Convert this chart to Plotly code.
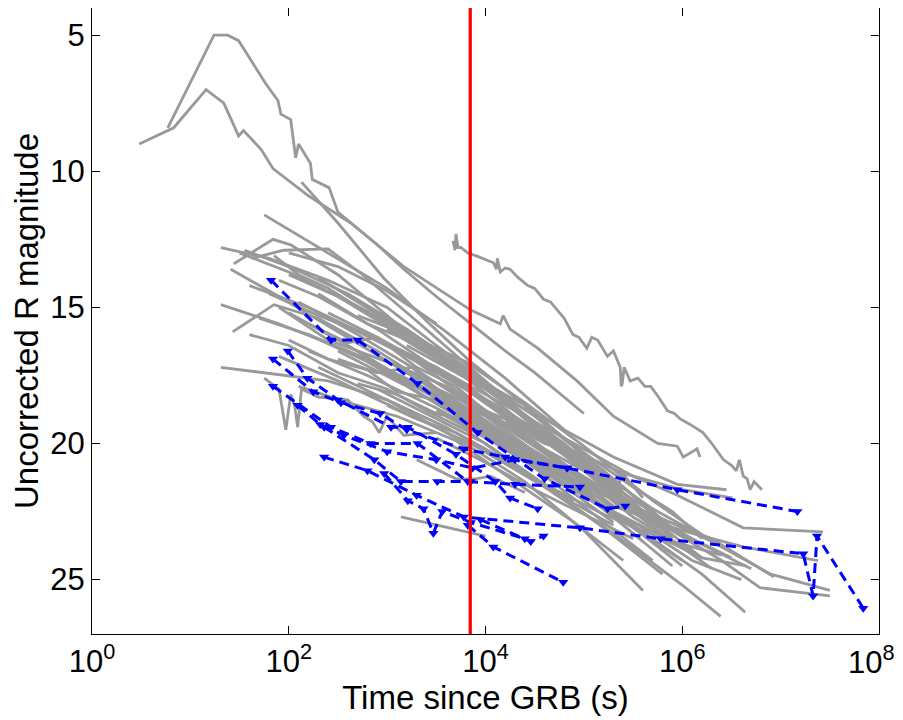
import plotly.graph_objects as go

# ---- data: log10(time since GRB [s]) and uncorrected R magnitude ----
gray_logt = [
    [3.67, 3.69, 3.70, 3.72, 3.75, 3.82, 3.90, 3.97, 4.02, 4.08, 4.11, 4.12, 4.15, 4.20, 4.25, 4.33, 4.43, 4.50, 4.59, 4.66, 4.73, 4.80, 4.89, 4.95, 5.03, 5.08, 5.14, 5.19, 5.24, 5.30, 5.37, 5.38, 5.39, 5.41, 5.47, 5.55, 5.62, 5.68, 5.76, 5.85, 5.92, 5.98, 6.08, 6.21, 6.30, 6.42, 6.50, 6.55, 6.58, 6.62, 6.66, 6.69, 6.73, 6.81],
    [0.48, 0.83, 1.16, 1.34, 1.49, 1.54, 1.72, 1.84, 2.20, 2.63, 3.17, 3.85, 4.15, 4.18, 4.25, 4.53, 4.93, 5.30, 5.75, 5.95, 6.01, 6.15, 6.18],
    [0.77, 1.24, 1.38, 1.49, 1.56, 1.77, 1.89, 1.92, 2.02, 2.07, 2.10, 2.22, 2.24, 2.41, 2.50, 2.70, 2.90, 3.17, 3.50, 3.85, 4.20, 4.50, 4.80, 5.00],
    [2.13, 2.50, 2.96, 3.40, 3.85, 4.30, 4.70],
    [1.75, 2.30, 3.00, 3.60, 4.20, 4.80],
    [1.31, 1.80, 2.40, 3.00, 3.50, 4.10, 4.60],
    [1.44, 1.84, 2.02, 2.50, 3.10, 3.70, 4.30, 5.00],
    [1.41, 1.90, 2.50, 3.20, 3.90, 4.60],
    [1.31, 1.90, 2.60, 3.30, 4.00, 4.70, 5.30],
    [1.43, 1.85, 2.30, 2.90, 3.60, 4.40, 5.10],
    [1.31, 2.40, 3.00, 3.60, 4.20, 4.90],
    [1.55, 2.00, 2.60, 3.20, 3.80, 4.50, 5.20, 5.80],
    [1.62, 1.95, 2.40, 2.75, 3.30, 3.90, 4.60],
    [2.00, 2.60, 3.30, 4.00, 4.70, 5.40, 6.00],
    [2.20, 2.80, 3.40, 4.10, 4.80, 5.50, 6.20, 6.64],
    [1.90, 2.50, 3.20, 3.90, 4.60, 5.30, 6.00, 6.39],
    [2.30, 3.00, 3.70, 4.40, 5.00, 5.60],
    [2.50, 3.20, 3.90, 4.60, 5.30, 6.00, 6.62, 6.92, 7.38],
    [3.00, 3.70, 4.40, 5.10, 5.80, 6.40, 6.79, 7.50],
    [2.80, 3.50, 4.20, 4.90, 5.50, 5.95, 6.39, 6.62, 7.43],
    [3.20, 3.90, 4.60, 5.30, 5.95, 6.45],
    [3.60, 4.20, 4.80, 5.40, 6.00, 6.51],
    [3.50, 4.10, 4.70, 5.30, 5.90, 6.40],
    [3.14, 4.00],
    [3.30, 3.70, 3.90, 4.05, 4.40],
    [1.75, 1.90, 1.97, 2.02, 2.06, 2.09, 2.13, 2.30, 2.60, 2.76, 2.85, 2.92, 3.00, 3.17, 3.50],
    [1.60, 2.20, 2.90, 3.50, 4.10, 4.80, 5.40],
    [1.80, 2.30, 2.80, 3.40, 4.00, 4.60, 5.20, 5.70],
    [2.00, 2.50, 3.00, 3.60, 4.20, 4.80, 5.50],
    [2.10, 2.70, 3.30, 3.90, 4.50, 5.10],
    [1.70, 2.20, 2.80, 3.40, 4.00, 4.60, 5.30, 5.90],
    [2.40, 2.90, 3.40, 3.90, 4.40, 5.00],
    [2.60, 3.10, 3.70, 4.30, 4.90, 5.60, 6.20],
    [2.20, 2.80, 3.50, 4.10, 4.70, 5.30],
    [1.90, 2.40, 3.00, 3.60, 4.20, 4.90, 5.50, 6.10],
    [2.70, 3.20, 3.80, 4.40, 5.00, 5.70, 6.30],
    [3.00, 3.50, 4.00, 4.50, 5.10, 5.70, 6.20],
    [2.30, 2.70, 3.30, 4.00, 4.60, 5.20],
    [2.50, 3.00, 3.60, 4.20, 4.80, 5.40, 5.90],
    [1.90, 2.30, 2.90, 3.60, 4.30],
    [3.30, 3.80, 4.30, 4.90, 5.50, 6.10, 6.50],
    [3.80, 4.30, 4.90, 5.50, 6.00],
    [2.90, 3.40, 4.00, 4.60, 5.20, 5.80],
    [4.00, 4.50, 5.00, 5.60, 6.30, 6.93],
    [4.30, 4.70, 5.20, 5.70, 6.30, 6.90, 7.50],
    [3.50, 4.00, 4.50, 5.00, 5.50],
    [2.00, 2.50, 3.00, 3.50],
    [3.90, 4.20, 4.50, 4.80, 5.10, 5.35, 5.37, 5.60],
    [4.50, 4.80, 5.10, 5.50, 5.90, 6.20],
    [2.80, 3.30, 3.90, 4.50, 5.10, 5.70],
    [1.50, 2.00, 2.50, 3.00, 3.60],
    [2.10, 2.60, 3.10, 3.70, 4.30, 4.90, 5.40],
    [4.10, 4.60, 5.20, 5.80, 6.20, 6.65],
    [3.70, 4.20, 4.80, 5.30, 5.80, 6.30],
    [3.60, 4.10, 4.60, 5.10, 5.60, 6.10, 6.60],
    [2.20, 2.60, 2.90, 3.30, 3.70, 4.20, 4.70, 5.30],
    [2.50, 2.90, 3.25, 3.60, 4.00, 4.50, 5.00, 5.60],
    [2.00, 2.40, 2.80, 3.10, 3.50, 3.90, 4.40],
    [2.70, 3.10, 3.50, 3.90, 4.30, 4.80, 5.30, 5.90],
    [3.10, 3.50, 3.90, 4.30, 4.70, 5.20, 5.70, 6.20],
    [1.60, 2.00, 2.50, 3.00, 3.40, 3.80, 4.30],
    [2.30, 2.80, 3.20, 3.60, 4.10, 4.60, 5.00],
    [3.40, 3.80, 4.20, 4.60, 5.00, 5.40, 5.80, 6.30, 6.70],
    [4.20, 4.60, 5.00, 5.40, 5.80, 6.20],
    [2.90, 3.20, 3.60, 4.00, 4.40, 4.80],
    [3.00, 3.30, 3.70, 4.10, 4.50, 4.90, 5.30],
    [1.85, 2.10, 2.40, 2.80, 3.20],
]
gray_mag = [
    [12.55, 12.9, 12.3, 12.8, 12.8, 13.0, 13.1, 13.2, 13.3, 13.36, 13.6, 13.2, 13.7, 13.55, 13.6, 13.9, 14.2, 14.3, 14.7, 14.8, 15.1, 15.4, 16.0, 16.1, 16.5, 16.1, 16.2, 16.5, 16.8, 16.6, 17.2, 17.9, 17.8, 17.2, 17.7, 17.6, 17.9, 17.9, 18.3, 18.8, 18.9, 19.1, 19.3, 19.6, 20.0, 20.6, 20.8, 21.0, 20.6, 21.2, 21.3, 21.7, 21.4, 21.7],
    [9.0, 8.4, 7.0, 7.5, 8.7, 8.5, 9.2, 9.9, 10.9, 11.9, 13.5, 15.1, 15.6, 15.3, 15.8, 16.5, 17.7, 19.0, 20.0, 20.1, 20.5, 20.2, 20.5],
    [8.4, 5.0, 5.0, 5.2, 5.6, 6.8, 7.4, 7.9, 8.1, 9.5, 9.0, 9.7, 10.3, 10.6, 11.5, 12.1, 12.7, 13.6, 14.6, 15.6, 16.6, 17.4, 18.3, 18.9],
    [10.4, 11.9, 13.9, 15.5, 17.0, 18.3, 19.5],
    [11.6, 12.8, 14.3, 15.9, 17.6, 19.5],
    [12.8, 13.2, 14.0, 15.0, 16.4, 18.0, 19.6],
    [13.4, 12.5, 12.7, 13.8, 15.6, 17.3, 19.0, 21.0],
    [13.6, 14.6, 15.9, 17.4, 19.0, 20.7],
    [14.9, 15.6, 16.6, 17.8, 19.3, 20.8, 22.4],
    [15.9, 14.9, 15.4, 16.6, 18.2, 20.1, 22.0],
    [17.2, 17.7, 18.4, 19.4, 20.7, 22.1],
    [12.9, 13.5, 14.5, 15.8, 17.3, 19.0, 21.0, 22.8],
    [13.2, 12.9, 12.85, 13.8, 15.5, 17.4, 19.6],
    [15.2, 16.4, 17.9, 19.4, 21.0, 22.8, 24.5],
    [16.0, 17.0, 18.3, 19.8, 21.3, 23.0, 24.8, 26.2],
    [16.8, 17.7, 18.9, 20.1, 21.6, 23.3, 25.2, 26.35],
    [17.2, 18.4, 19.8, 21.4, 23.2, 25.4],
    [16.6, 17.9, 19.4, 20.9, 22.3, 23.2, 23.8, 24.0, 24.3],
    [17.4, 18.7, 20.1, 21.6, 23.0, 24.3, 25.3, 25.6],
    [16.0, 17.2, 18.6, 20.0, 21.2, 21.9, 22.7, 23.1, 23.25],
    [16.4, 17.8, 19.1, 20.5, 21.5, 21.7],
    [17.5, 18.8, 20.1, 21.1, 21.7, 22.0],
    [18.8, 20.0, 21.3, 22.5, 23.6, 24.1],
    [22.7, 23.4],
    [20.6, 21.3, 21.3, 21.2, 21.8],
    [17.6, 18.0, 19.5, 18.2, 18.6, 19.4, 18.0, 18.3, 18.4, 19.0, 19.2, 19.6, 19.0, 19.7, 19.6],
    [14.2, 15.0, 16.2, 17.3, 18.6, 20.2, 21.7],
    [14.5, 15.3, 16.0, 17.1, 18.4, 19.9, 21.5, 22.9],
    [13.8, 14.6, 15.7, 17.0, 18.5, 20.2, 22.1],
    [14.8, 16.0, 17.3, 18.7, 20.0, 21.5],
    [15.4, 16.0, 16.9, 18.0, 19.2, 20.5, 22.0, 23.4],
    [15.2, 16.1, 17.1, 18.2, 19.3, 20.8],
    [15.7, 16.6, 17.8, 19.1, 20.6, 22.3, 23.9],
    [16.6, 17.5, 18.7, 19.9, 21.3, 22.9],
    [15.0, 16.2, 17.0, 17.9, 19.4, 21.0, 22.7, 24.0],
    [15.3, 16.0, 17.0, 18.5, 20.1, 22.1, 23.6],
    [15.8, 16.9, 18.0, 19.3, 20.9, 22.4, 23.4],
    [13.9, 14.8, 16.1, 17.9, 19.7, 21.5],
    [14.6, 15.5, 16.9, 18.4, 20.0, 21.8, 23.5],
    [14.0, 14.6, 15.8, 17.5, 19.3],
    [17.0, 18.3, 19.5, 21.0, 22.3, 23.5, 24.2],
    [18.9, 20.2, 21.7, 23.1, 24.3],
    [18.0, 18.9, 20.0, 21.5, 23.1, 24.8],
    [19.4, 20.5, 21.5, 22.5, 23.5, 24.9],
    [20.3, 21.0, 21.9, 22.6, 23.6, 24.8, 25.4],
    [19.8, 20.7, 21.7, 22.6, 23.5],
    [13.0, 13.5, 14.4, 15.6],
    [18.2, 19.0, 19.7, 20.4, 21.0, 22.3, 21.0, 22.0],
    [19.0, 19.8, 20.6, 21.6, 22.5, 23.5],
    [17.0, 17.9, 19.3, 20.9, 22.6, 24.3],
    [13.0, 13.7, 14.6, 15.6, 16.9],
    [17.9, 18.5, 19.0, 19.9, 21.4, 22.9, 24.3],
    [20.5, 21.5, 22.6, 23.5, 24.2, 24.5],
    [18.3, 19.4, 20.8, 22.0, 23.3, 24.6],
    [19.0, 19.9, 21.0, 22.1, 23.1, 24.3, 25.0],
    [15.6, 16.3, 16.1, 17.2, 17.9, 19.4, 20.6, 22.3],
    [16.9, 17.4, 17.2, 18.3, 19.0, 20.3, 21.8, 23.6],
    [16.2, 16.9, 17.3, 18.1, 18.4, 19.3, 20.5],
    [17.8, 18.2, 18.9, 19.2, 20.1, 21.3, 22.7, 24.5],
    [16.5, 17.2, 18.1, 19.3, 20.1, 21.4, 22.8, 24.2],
    [16.0, 16.4, 17.4, 18.0, 18.8, 19.5, 20.8],
    [14.5, 15.6, 16.2, 17.0, 18.2, 19.5, 20.8],
    [17.8, 18.5, 19.1, 20.2, 21.0, 22.2, 23.0, 23.9, 24.6],
    [19.2, 20.0, 20.5, 21.6, 22.9, 23.7],
    [15.2, 15.9, 16.8, 17.8, 18.6, 19.8],
    [18.6, 19.1, 19.6, 20.4, 21.3, 22.2, 23.0],
    [13.1, 13.8, 14.3, 15.2, 16.2],
]

blue_logt = [
    [1.82, 2.43, 2.70, 3.31, 3.92, 4.60, 5.24, 5.42],
    [1.99, 2.19, 2.50, 3.04, 3.21, 3.70, 4.10, 4.25, 4.53],
    [1.84, 2.25, 2.53, 2.93, 3.20, 3.78, 4.20, 4.83, 5.95, 7.17],
    [2.36, 2.80, 3.30, 3.78, 4.96, 5.78, 7.23, 7.33, 7.37, 7.84],
    [1.84, 2.43, 2.83, 3.31, 3.82, 4.30, 4.96],
    [2.09, 2.32, 2.56, 3.00, 3.50, 3.87, 4.30, 4.83],
    [2.97, 3.21, 3.37, 3.47, 3.56, 3.85, 4.40],
    [3.82, 4.08, 4.79],
    [3.95, 4.46, 4.59],
    [2.36, 2.87, 3.14, 3.51, 3.85],
]
blue_mag = [
    [14.0, 16.2, 16.2, 17.8, 19.6, 21.3, 22.4, 22.3],
    [16.6, 17.6, 18.4, 19.4, 19.4, 20.4, 21.4, 22.0, 22.4],
    [16.9, 18.1, 18.5, 18.9, 19.5, 20.2, 20.5, 20.9, 21.7, 22.5],
    [20.5, 21.0, 21.9, 22.7, 23.1, 23.5, 24.05, 25.6, 23.4, 26.05],
    [17.9, 19.4, 20.0, 20.0, 21.4, 21.5, 21.6],
    [18.6, 19.3, 19.7, 20.3, 20.6, 20.9, 20.6, 20.9],
    [21.1, 22.1, 22.4, 23.3, 22.5, 22.9, 23.5],
    [23.0, 23.8, 25.1],
    [22.8, 23.6, 23.4],
    [19.4, 20.6, 21.4, 21.4, 21.4],
]

red_time = 7000  # seconds
x_tick_vals = [1, 1e2, 1e4, 1e6, 1e8]
x_tick_text = ["10<sup>0</sup>", "10<sup>2</sup>", "10<sup>4</sup>", "10<sup>6</sup>", ""]
last_tick_label = "10<sup>8</sup>"
y_tick_vals = [5, 10, 15, 20, 25]

fig = go.Figure()
for lt, m in zip(gray_logt, gray_mag):
    fig.add_trace(go.Scatter(
        x=[10 ** v for v in lt], y=m, mode="lines",
        line=dict(color="rgb(153,153,153)", width=2.8),
        showlegend=False, hoverinfo="skip"))
for lt, m in zip(blue_logt, blue_mag):
    fig.add_trace(go.Scatter(
        x=[10 ** v for v in lt], y=m, mode="lines+markers",
        line=dict(color="rgb(0,0,255)", width=3, dash="10px,6px"),
        marker=dict(symbol="triangle-down", size=9, color="rgb(0,0,255)"),
        showlegend=False, hoverinfo="skip"))
fig.add_trace(go.Scatter(
    x=[red_time, red_time], y=[27, 4], mode="lines",
    line=dict(color="rgb(255,0,0)", width=3.2),
    showlegend=False, hoverinfo="skip"))

tick_font = dict(family="Liberation Sans, Arial, sans-serif", size=31, color="black")
title_font = dict(family="Liberation Sans, Arial, sans-serif", size=33, color="black")

# label for the last decade (placed manually so it stays inside the page)
fig.add_annotation(
    x=8, xref="x", y=0, yref="paper",
    text=last_tick_label, showarrow=False,
    xanchor="right", yanchor="top", xshift=18, yshift=-4,
    font=tick_font,
)

fig.update_layout(
    width=895, height=712,
    margin=dict(l=84, r=24, t=0, b=86),
    paper_bgcolor="white", plot_bgcolor="white",
    font=tick_font,
    xaxis=dict(
        type="log", range=[0, 8],
        tickvals=x_tick_vals, ticktext=x_tick_text,
        ticks="inside", ticklen=8, tickcolor="black",
        showline=True, linecolor="black", linewidth=1.2, mirror="ticks",
        showgrid=False, zeroline=False,
        tickfont=tick_font,
        title=dict(text="Time since GRB (s)", font=title_font, standoff=2),
    ),
    yaxis=dict(
        range=[27, 4],
        tickvals=y_tick_vals,
        ticks="inside", ticklen=8, tickcolor="black",
        showline=True, linecolor="black", linewidth=1.2, mirror="ticks",
        showgrid=False, zeroline=False,
        tickfont=tick_font,
        title=dict(text="Uncorrected R magnitude", font=title_font, standoff=8),
    ),
)
fig.write_html("out.html")
